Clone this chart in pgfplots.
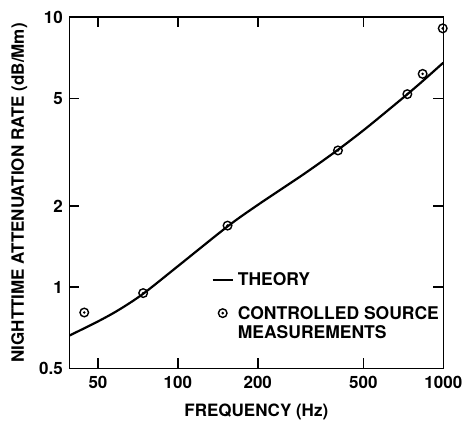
\documentclass[border=0pt]{standalone}
\usepackage{fontspec}
\setmainfont{TeX Gyre Heros}
\usepackage{pgfplots}
\pgfplotsset{compat=1.18}
\pgfdeclareplotmark{odot}{%
  \pgfpathcircle{\pgfpointorigin}{\pgfplotmarksize}\pgfusepathqstroke
  \pgfpathcircle{\pgfpointorigin}{0.33\pgfplotmarksize}\pgfusepathqfill}
\pgfplotstableread{
x y
39 0.661
50 0.746
60 0.824
74 0.9445
100 1.195
154 1.679
200 2.016
300 2.634
401 3.228
500 3.811
600 4.41
732 5.186
836 5.802
1000 6.79
}\theory
\pgfplotstableread{
x y
44.4 0.805
74.0 0.95
153.9 1.69
401 3.21
732 5.19
836 6.17
995 9.1
}\meas
\begin{document}
\begin{tikzpicture}
\begin{axis}[
  xmode=log, ymode=log,
  scale only axis, width=374pt, height=351pt,
  xmin=39, xmax=1000, ymin=0.5, ymax=10,
  xtick={50,100,200,500,1000}, xticklabels={50,100,200,500,1000},
  ytick={0.5,1,2,5,10}, yticklabels={0.5,1,2,5,10},
  xminorticks=false, yminorticks=false,
  tick align=inside, major tick length=10pt,
  axis line style={line width=1.6pt},
  every tick/.style={black, line width=1.6pt},
  ticklabel style={font=\fontsize{17}{17}\selectfont\bfseries},
  /pgf/number format/assume math mode=true,
  xticklabel style={yshift=-4pt},
  yticklabel style={xshift=-3pt},
  xlabel={FREQUENCY (Hz)},
  ylabel={NIGHTTIME ATTENUATION RATE (dB/Mm)},
  every axis x label/.style={at={(rel axis cs:0.5,0)}, anchor=center, yshift=-44pt,
    font=\fontsize{17}{17}\selectfont\bfseries},
  every axis y label/.style={at={(rel axis cs:0,0.5)}, xshift=-50pt, rotate=90, anchor=center,
    font=\fontsize{17}{17}\selectfont\bfseries},
  legend style={at={(rel axis cs:0.38,0.278)}, anchor=north west, draw=none, fill=none,
    font=\fontsize{17.5}{20}\selectfont\bfseries, row sep=14pt, column sep=2pt,
    inner sep=0pt},
  legend cell align=left,
]
\coordinate (sw) at (rel axis cs:0,0);
\coordinate (ne) at (rel axis cs:1,1);
\addplot[black, line width=2.2pt, smooth, tension=0.5,
  legend image code/.code={\draw[black, line width=2.2pt] (0pt,0pt) -- (20pt,0pt);}]
  table[x=x,y=y] {\theory};
\addlegendentry{THEORY}
\addplot[black, only marks, mark=odot, mark size=4.3pt, line width=1.4pt,
  legend image code/.code={\draw[black, line width=1.4pt, mark=odot, mark size=4.3pt] plot coordinates {(10pt,0pt)};}]
  table[x=x,y=y] {\meas};
\addlegendentry{\raisebox{0pt}[\height][0pt]{\begin{tabular}[t]{@{}l@{}}CONTROLLED SOURCE\\[-1pt]MEASUREMENTS\end{tabular}}}
\end{axis}
\pgfresetboundingbox
\path[use as bounding box] ([xshift=-69.3pt,yshift=-59.7pt]sw) rectangle ([xshift=23.7pt,yshift=17.3pt]ne);
\end{tikzpicture}
\end{document}
